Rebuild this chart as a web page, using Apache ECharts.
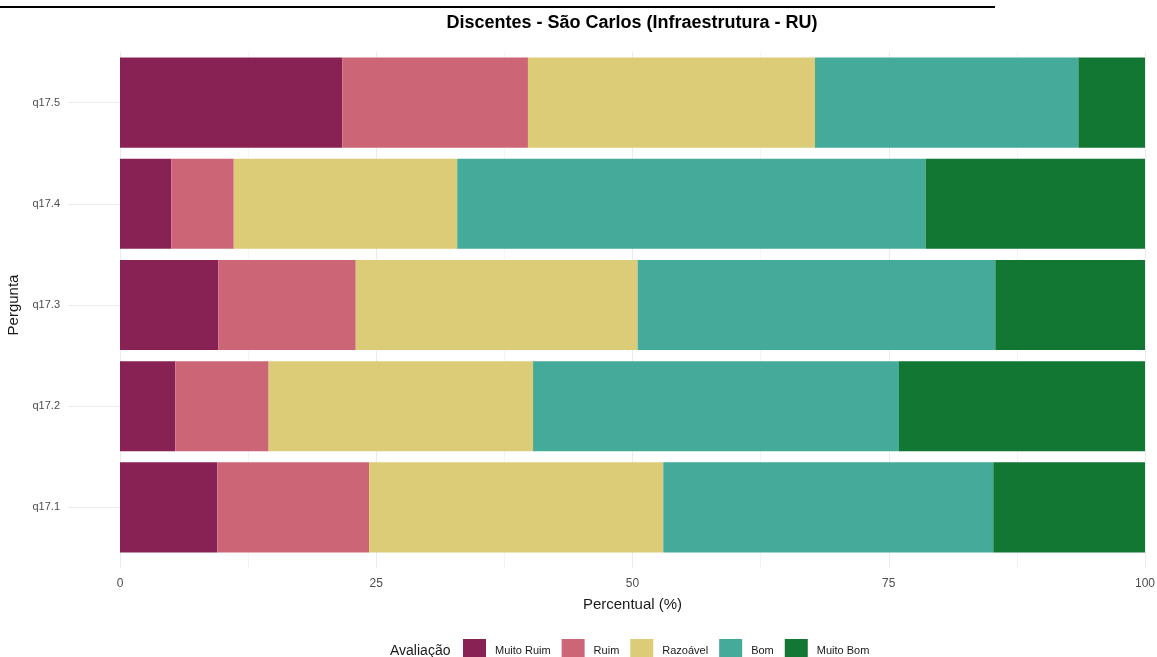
<!DOCTYPE html>
<html>
<head>
    <meta charset="utf-8">
    <title>Discentes - São Carlos</title>
    <script src="https://cdn.jsdelivr.net/npm/echarts@6/dist/echarts.min.js"></script>
    <style>
        html, body { margin: 0; padding: 0; background: #fff; }
        #main { width: 1157px; height: 657px; }
    </style>
</head>
<body>
    <div id="main"></div>
    <script type="text/javascript">
        // perguntas (de baixo para cima)
        var perguntas = ['q17.1', 'q17.2', 'q17.3', 'q17.4', 'q17.5'];
        var niveis = ['Muito Ruim', 'Ruim', 'Razoável', 'Bom', 'Muito Bom'];
        var cores = ['#882255', '#CC6677', '#DDCC77', '#44AA99', '#117733'];

        // percentuais por nível, na ordem das perguntas
        var muitoRuim = [9.5, 5.4, 9.6, 5.0, 21.7];
        var ruim      = [14.8, 9.1, 13.4, 6.1, 18.1];
        var razoavel  = [28.7, 25.8, 27.5, 21.8, 28.0];
        var bom       = [32.2, 35.7, 34.9, 45.7, 25.7];
        var muitoBom  = [14.8, 24.0, 14.6, 21.4, 6.5];
        var valores = [muitoRuim, ruim, razoavel, bom, muitoBom];

        var xTicks = [0, 25, 50, 75, 100];

        var chart = echarts.init(document.getElementById('main'));

        var series = niveis.map(function (nome, i) {
            return {
                name: nome,
                type: 'bar',
                stack: 'total',
                barCategoryGap: '11%',
                data: valores[i],
                itemStyle: { color: cores[i] },
                emphasis: { disabled: true }
            };
        });

        var option = {
            animation: false,
            backgroundColor: '#ffffff',
            textStyle: { fontFamily: 'Liberation Sans, Arial, sans-serif' },
            graphic: [
                {
                    type: 'line',
                    shape: { x1: 0, y1: 7, x2: 995, y2: 7 },
                    style: { stroke: '#000', lineWidth: 2 }
                },
                {
                    type: 'text',
                    x: 632, y: 23,
                    style: {
                        text: 'Discentes - São Carlos (Infraestrutura - RU)',
                        font: 'bold 18px Liberation Sans, Arial, sans-serif',
                        fill: '#000',
                        align: 'center',
                        verticalAlign: 'middle'
                    }
                },
                {
                    type: 'text',
                    x: 390, y: 651,
                    style: {
                        text: 'Avaliação',
                        font: '14px Liberation Sans, Arial, sans-serif',
                        fill: '#1a1a1a',
                        verticalAlign: 'middle'
                    }
                }
            ],
            legend: {
                data: niveis,
                left: 458,
                top: 634,
                itemWidth: 23,
                itemHeight: 23,
                itemGap: 11,
                icon: 'rect',
                textStyle: { fontSize: 11, color: '#1a1a1a', padding: [0, 0, 0, 4] }
            },
            grid: {
                left: 120,
                right: 12,
                top: 52,
                height: 506,
                outerBoundsMode: 'none'
            },
            xAxis: {
                type: 'value',
                min: 0,
                max: 100,
                interval: 25,
                name: 'Percentual (%)',
                nameLocation: 'middle',
                nameGap: 39,
                nameTextStyle: { fontSize: 15, color: '#1a1a1a' },
                axisLine: { show: false },
                axisTick: { show: true, length: 10, lineStyle: { color: '#ebebeb' } },
                minorTick: { show: true, splitNumber: 2, length: 10, lineStyle: { color: '#f2f2f2' } },
                axisLabel: {
                    margin: 20,
                    fontSize: 12,
                    color: '#4d4d4d',
                    formatter: function (v) { return xTicks.indexOf(v) >= 0 ? String(v) : ''; }
                },
                splitLine: { show: true, lineStyle: { color: '#ebebeb', width: 1 } },
                minorSplitLine: { show: true, lineStyle: { color: '#f4f4f4', width: 1 } }
            },
            yAxis: {
                type: 'category',
                data: perguntas,
                name: 'Pergunta',
                nameLocation: 'middle',
                nameGap: 95,
                nameTextStyle: { fontSize: 15, color: '#1a1a1a' },
                axisLine: { show: false },
                axisTick: { show: true, alignWithLabel: true, length: 52, lineStyle: { color: '#ebebeb' } },
                axisLabel: { margin: 60, fontSize: 11, color: '#4d4d4d' },
                splitLine: { show: false }
            },
            series: series
        };

        chart.setOption(option);
    </script>
</body>
</html>
